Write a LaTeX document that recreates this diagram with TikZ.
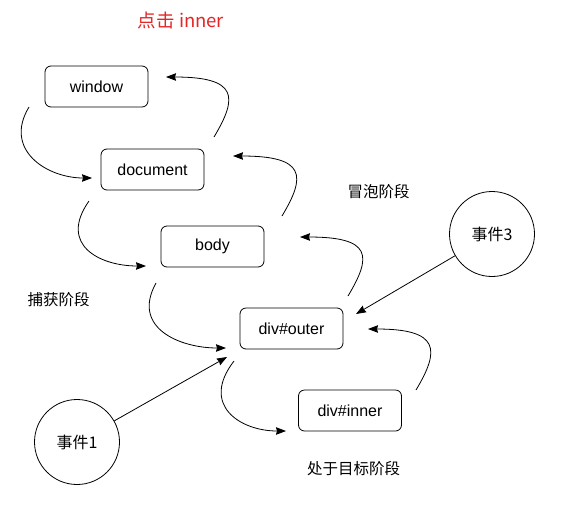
\documentclass[tikz,border=0pt]{standalone}
\usepackage{fontspec}
\setmainfont{Liberation Sans}
\newfontfamily\cjk{Noto Sans CJK SC}
\usetikzlibrary{arrows.meta}
\definecolor{titlered}{RGB}{228,38,38}
\begin{document}
\begin{tikzpicture}[x=1pt,y=1pt,
  box/.style={draw, line width=0.8pt, rounded corners=6pt, minimum width=103pt, minimum height=41pt, inner sep=0pt, font=\fontsize{16}{19}\selectfont},
  evt/.style={draw, line width=0.8pt, circle, minimum size=85pt, inner sep=0pt, font=\cjk\fontsize{16}{19}\selectfont},
  lbl/.style={font=\cjk\fontsize{15.5}{18}\selectfont, inner sep=0pt},
  arr/.style={line width=0.8pt, -{Stealth[length=10pt,width=7.5pt,inset=1pt]}}
]
\useasboundingbox (0,0) rectangle (562,-504);
\fill[white] (0,0) rectangle (562,-504);

\node[font=\cjk\fontsize{18.5}{22}\selectfont, text=titlered, inner sep=0pt] (title) at (181,-20) {点击 inner};

\node[box] (window) at (96.5,-86.5) {window};
\node[box] (document) at (152.5,-169.5) {document};
\node[box] (body) at (212.5,-246.5) {body};
\node[box] (outer) at (291.5,-328.5) {div\#outer};
\node[box] (inner) at (350,-410.5) {div\#inner};

\node[evt] (e3) at (492,-234) {事件3};
\node[evt] (e1) at (77,-442) {事件1};

\node[lbl] (bubble) at (378.5,-192) {冒泡阶段};
\node[lbl] (capture) at (58.5,-300) {捕获阶段};
\node[lbl] (target) at (353.5,-469) {处于目标阶段};

% capture
\coordinate (c1s) at (29,-107);   \coordinate (c1e) at (92,-178);
\coordinate (c2s) at (89,-201);   \coordinate (c2e) at (146,-266);
\coordinate (c3s) at (156,-283);  \coordinate (c3e) at (226,-348);
\coordinate (c4s) at (234,-361);  \coordinate (c4e) at (286,-431);
\draw[arr] (c1s) .. controls (3,-150) and (47,-178) .. (c1e);
\draw[arr] (c2s) .. controls (58,-245) and (100,-266) .. (c2e);
\draw[arr] (c3s) .. controls (131,-328) and (180,-348) .. (c3e);
\draw[arr] (c4s) .. controls (200,-405) and (240,-431) .. (c4e);

% bubble
\coordinate (b1s) at (416,-390);  \coordinate (b1e) at (368,-329);
\coordinate (b2s) at (348,-296);  \coordinate (b2e) at (300,-237);
\coordinate (b3s) at (282,-216);  \coordinate (b3e) at (233,-156);
\coordinate (b4s) at (214,-137);  \coordinate (b4e) at (166,-77);
\draw[arr] (b1s) .. controls (440,-350) and (440,-329) .. (b1e);
\draw[arr] (b2s) .. controls (372,-256) and (372,-237) .. (b2e);
\draw[arr] (b3s) .. controls (306,-176) and (306,-156) .. (b3e);
\draw[arr] (b4s) .. controls (238,-97) and (238,-77) .. (b4e);

% events
\coordinate (t3) at (356,-314);
\coordinate (t1) at (227,-357);
\draw[arr] (e3) -- (t3);
\draw[arr] (e1) -- (t1);
\end{tikzpicture}
\end{document}
